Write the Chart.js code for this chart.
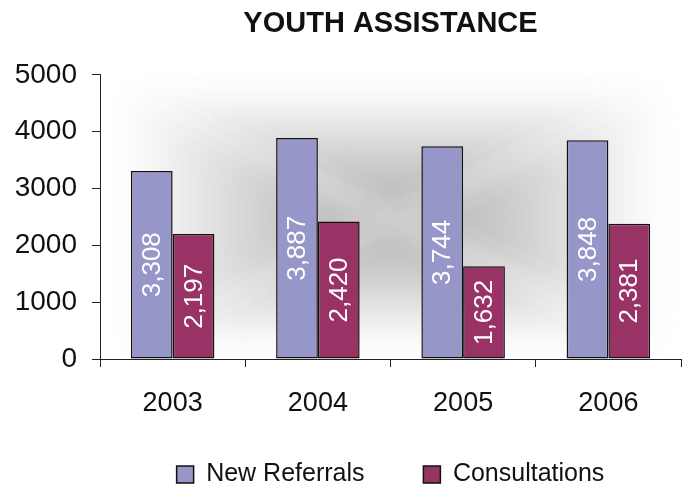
<!DOCTYPE html>
<html>
<head>
<meta charset="utf-8">
<script src="https://cdn.jsdelivr.net/npm/chart.js@4/dist/chart.umd.min.js"></script>
<style>
  body { margin: 0; background: #fff; }
</style>
</head>
<body>
<canvas id="myChart" width="689" height="487"></canvas>
<script>
const years = ['2003', '2004', '2005', '2006'];
const newReferrals = [3308, 3887, 3744, 3848];
const consultations = [2197, 2420, 1632, 2381];
const yTicks = [0, 1000, 2000, 3000, 4000, 5000];

const fontFam = '"Liberation Sans", Arial, sans-serif';

// grey "from centre" fill behind the bars, 4 triangles softened with a blur
const bgPlugin = {
  id: 'bgFill',
  beforeDraw(chart) {
    const a = chart.chartArea;
    const c = chart.ctx;
    const l = a.left + 22, r = a.right - 18, t = a.top + 14, b = a.bottom - 12;
    const cx = (l + r) / 2, cy = (t + b) / 2;
    const pts = [[l, t], [r, t], [r, b], [l, b]];
    const ends = [[cx, t], [r, cy], [cx, b], [l, cy]];
    c.save();
    c.beginPath();
    c.rect(a.left + 1, a.top, a.right - a.left - 1, a.bottom - a.top - 1);
    c.clip();
    c.filter = 'blur(16px)';
    for (let i = 0; i < 4; i++) {
      const p1 = pts[i], p2 = pts[(i + 1) % 4];
      const g = c.createLinearGradient(cx, cy, ends[i][0], ends[i][1]);
      g.addColorStop(0, '#b2b2b2');
      g.addColorStop(0.4, '#c9c9c9');
      g.addColorStop(0.8, '#eeeeee');
      g.addColorStop(1, '#ffffff');
      c.beginPath();
      c.moveTo(cx, cy);
      c.lineTo(p1[0], p1[1]);
      c.lineTo(p2[0], p2[1]);
      c.closePath();
      c.fillStyle = g;
      c.fill();
      c.strokeStyle = g;
      c.lineWidth = 0.5;
      c.stroke();
    }
    c.restore();
  }
};

// white rotated value labels inside the bars
const labelPlugin = {
  id: 'barLabels',
  afterDatasetsDraw(chart) {
    const c = chart.ctx;
    c.save();
    c.fillStyle = '#ffffff';
    c.font = '26px ' + fontFam;
    c.textAlign = 'center';
    c.textBaseline = 'middle';
    chart.data.datasets.forEach((ds, i) => {
      chart.getDatasetMeta(i).data.forEach((bar, k) => {
        const txt = ds.data[k].toLocaleString('en-US');
        c.save();
        c.translate(bar.x, (bar.y + bar.base) / 2);
        c.rotate(-Math.PI / 2);
        c.fillText(txt, 0, 1);
        c.restore();
      });
    });
    c.restore();
  }
};

const ctx = document.getElementById('myChart').getContext('2d');
const chart = new Chart(ctx, {
  type: 'bar',
  data: {
    labels: years,
    datasets: [{
      label: 'New Referrals',
      data: newReferrals,
      backgroundColor: '#9696c8',
      borderColor: '#111111',
      borderWidth: 1.5,
      borderSkipped: false
    }, {
      label: 'Consultations',
      data: consultations,
      backgroundColor: '#993366',
      borderColor: '#111111',
      borderWidth: 1.5,
      borderSkipped: false
    }]
  },
  options: {
    responsive: false,
    animation: false,
    categoryPercentage: 0.575,
    barPercentage: 1,
    layout: { padding: { left: 0, right: 8, top: 0, bottom: -10 } },
    plugins: {
      title: {
        display: true,
        text: 'YOUTH ASSISTANCE',
        fullSize: false,
        color: '#111',
        font: { family: fontFam, size: 29, weight: 'bold', lineHeight: 1.2 },
        padding: { top: 7, bottom: 33 }
      },
      legend: {
        position: 'bottom',
        fullSize: false,
        labels: {
          color: '#111',
          font: { family: fontFam, size: 25, lineHeight: 1 },
          boxWidth: 17,
          boxHeight: 17,
          padding: 45,
          generateLabels(chart) {
            const items = Chart.defaults.plugins.legend.labels.generateLabels(chart);
            // a bit more room between the two entries
            items[0].text = items[0].text + '  ';
            return items;
          }
        }
      },
      tooltip: { enabled: false }
    },
    scales: {
      x: {
        afterFit(axis) { axis.height = 58; },
        grid: { display: true, drawOnChartArea: false, tickLength: 8, color: '#222', offset: true },
        border: { display: true, color: '#222', width: 1 },
        ticks: { color: '#111', font: { family: fontFam, size: 27 }, padding: 20 }
      },
      y: {
        min: 0,
        max: 5000,
        afterBuildTicks(axis) { axis.ticks = yTicks.map(v => ({ value: v })); },
        afterFit(axis) { axis.width = 100; },
        grid: { display: true, drawOnChartArea: false, tickLength: 8, color: '#222' },
        border: { display: true, color: '#222', width: 1 },
        ticks: {
          color: '#111',
          font: { family: fontFam, size: 28 },
          padding: 15,
          callback: v => String(v)
        }
      }
    }
  },
  plugins: [bgPlugin, labelPlugin]
});
</script>
</body>
</html>
